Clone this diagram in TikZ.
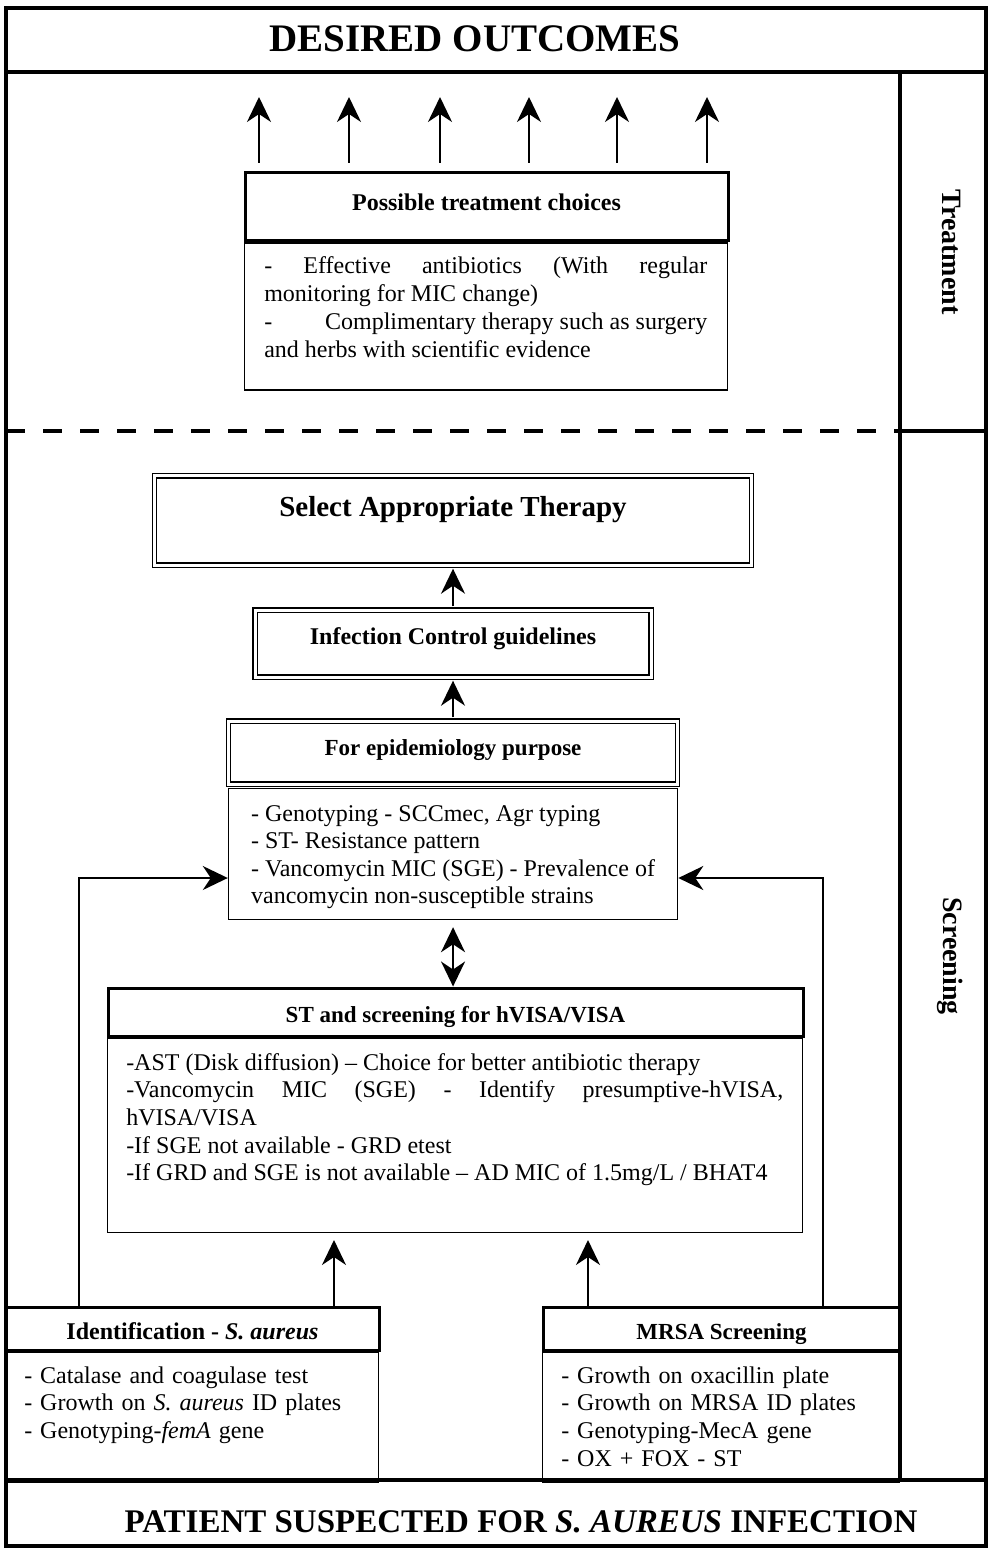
\documentclass[tikz,border=0pt]{standalone}
\usepackage{fontspec}
\setmainfont{Liberation Serif}
\usetikzlibrary{arrows.meta,positioning}
\newcommand{\bodyfont}{\fontsize{12}{13.8}\selectfont}
\newcommand{\hdrfont}{\bfseries\fontsize{12}{14}\selectfont}
\newcommand{\saur}{\textit{S. aureus}}

\begin{document}
\begin{tikzpicture}[
    x=0.5pt, y=-0.5pt,
    >={Stealth[length=12.5pt, width=12pt, inset=4pt]},
    frame/.style={line width=2.25pt},
    hdr/.style={draw, line width=1.5pt, inner sep=0pt, font=\hdrfont},
    dbox/.style={draw, double, double distance=1.5pt, line width=0.7pt, inner sep=0pt, font=\hdrfont},
    body/.style={draw, line width=0.75pt, inner xsep=9.5pt, inner ysep=0pt, font=\bodyfont},
    side/.style={rotate=-90, font=\bfseries\fontsize{14}{16}\selectfont},
    arr/.style={->, line width=1pt},
  ]
  \useasboundingbox (0,0) rectangle (990,1550);

  % ---------------- frame
  \draw[frame] (6,8) rectangle (986,1546);
  \draw[frame] (6,72) -- (986,72);
  \draw[frame] (6,1480) -- (986,1480);
  \draw[frame] (900,72) -- (900,1480);
  \draw[frame] (900,431) -- (986,431);
  \draw[frame, dash pattern=on 9.5pt off 9pt] (6,431) -- (900,431);
  \node[font=\bfseries\fontsize{19.5}{22}\selectfont, anchor=base] (ttl) at (475,52) {DESIRED OUTCOMES};
  \node[font=\bfseries\fontsize{16.5}{19}\selectfont, anchor=base] (pat) at (521,1532)
       {PATIENT SUSPECTED FOR \textit{S. AUREUS} INFECTION};
  \node[side] (trt) at (952,252) {Treatment};
  \node[side] (scr) at (950,956) {Screening};

  % ---------------- treatment
  \node[hdr, minimum width=241.5pt, minimum height=34pt, text height=8.5pt, text depth=4.6pt] (ptc)
       at (486.5,207) {Possible treatment choices};
  \node[body, below=0pt of ptc.south west, anchor=north west, inner xsep=10pt, text width=221.5pt,
        align=justify, text height=15pt, text depth=58.5pt, font=\fontsize{12}{14}\selectfont] (tcb)
       {- Effective antibiotics (With regular\linebreak monitoring for MIC change)\\
        -\hfill Complimentary therapy such as surgery\linebreak and herbs with scientific evidence};
  \foreach \x in {259,349,440,529,617,707} { \draw[arr, line width=1.2pt] (\x,163) -- (\x,97); }

  % ---------------- therapy chain
  \node[dbox, minimum width=298.5pt, minimum height=44.5pt, text height=10pt, text depth=13.9pt,
        font=\bfseries\fontsize{14.5}{17}\selectfont] (sel) at (453,520.5) {Select Appropriate Therapy};
  \node[dbox, minimum width=198pt, minimum height=33.5pt, text height=8.5pt, text depth=7.1pt] (inf)
       at (453,643.5) {Infection Control guidelines};
  \node[dbox, minimum width=224.5pt, minimum height=31.5pt, text height=8.5pt, text depth=5.4pt,
        font=\bfseries\fontsize{11.5}{13.5}\selectfont] (epih) at (453,752.5) {For epidemiology purpose};
  % align=left without text width: baseline is the last line
  \node[body, below=1.5pt of epih.south west, anchor=north west, minimum width=224.5pt, inner xsep=0pt,
        align=left, text height=57.5pt, text depth=8pt, font=\fontsize{12}{13.7}\selectfont] (epib)
       {- Genotyping - SCCmec, Agr typing\\
        - ST- Resistance pattern\\
        - Vancomycin MIC (SGE) - Prevalence of\\
        vancomycin non-susceptible strains};
  \draw[arr, shorten <=1.5pt, shorten >=1.5pt] (inf.north) -- (sel.south);
  \draw[arr, shorten <=1.5pt, shorten >=1.5pt] (epih.north) -- (inf.south);

  % ---------------- hVISA screening
  \node[hdr, minimum width=347.5pt, minimum height=24pt, text height=11pt, text depth=0.4pt,
        font=\bfseries\fontsize{11.5}{13.5}\selectfont] (sth) at (455.5,1012) {ST and screening for hVISA/VISA};
  \node[body, below=0pt of sth.south west, anchor=north west, text width=328.5pt, align=justify,
        text height=16pt, text depth=81pt] (stb)
       {-AST (Disk diffusion) -- Choice for better antibiotic therapy\\
        -Vancomycin MIC (SGE) - Identify presumptive-hVISA,\linebreak hVISA/VISA\\
        -If SGE not available - GRD etest\\
        -If GRD and SGE is not available -- AD MIC of 1.5mg/L / BHAT4};
  \draw[<->, line width=1pt, shorten <=3.5pt] (epib.south) -- (epib.south |- sth.north);

  % ---------------- first tests
  \node[hdr, minimum width=186.5pt, minimum height=21.5pt, text height=12pt, text depth=0.6pt] (idh)
       at (192.5,1328.5) {Identification - \saur};
  \node[body, below=0pt of idh.south west, anchor=north west, text width=167.5pt, align=left,
        text height=15.5pt, text depth=49.5pt] (idb)
       {- Catalase and coagulase test\\
        - Growth on \saur{} ID plates\\
        - Genotyping-\textit{femA} gene};
  \node[hdr, minimum width=178.5pt, minimum height=21.5pt, text height=11.5pt, text depth=0.4pt,
        font=\bfseries\fontsize{11.5}{13.5}\selectfont] (mrh) at (721.5,1328.5) {MRSA Screening};
  \node[body, below=0pt of mrh.south west, anchor=north west, text width=159.5pt, align=left,
        text height=15.5pt, text depth=49.5pt] (mrb)
       {- Growth on oxacillin plate\\
        - Growth on MRSA ID plates\\
        - Genotyping-MecA gene\\
        - OX + FOX - ST};

  % ---------------- wiring
  \coordinate (lj) at (79,878);
  \coordinate (rj) at (823,878);
  \coordinate (ida) at (334,0);
  \coordinate (mra) at (588,0);
  \draw[arr] (idh.north -| lj) -- (lj) -- (epib.west |- lj);
  \draw[arr] (mrh.north -| rj) -- (rj) -- (epib.east |- rj);
  \draw[arr, shorten >=3.5pt] (idh.north -| ida) -- (stb.south -| ida);
  \draw[arr, shorten >=3.5pt] (mrh.north -| mra) -- (stb.south -| mra);
\end{tikzpicture}
\end{document}
